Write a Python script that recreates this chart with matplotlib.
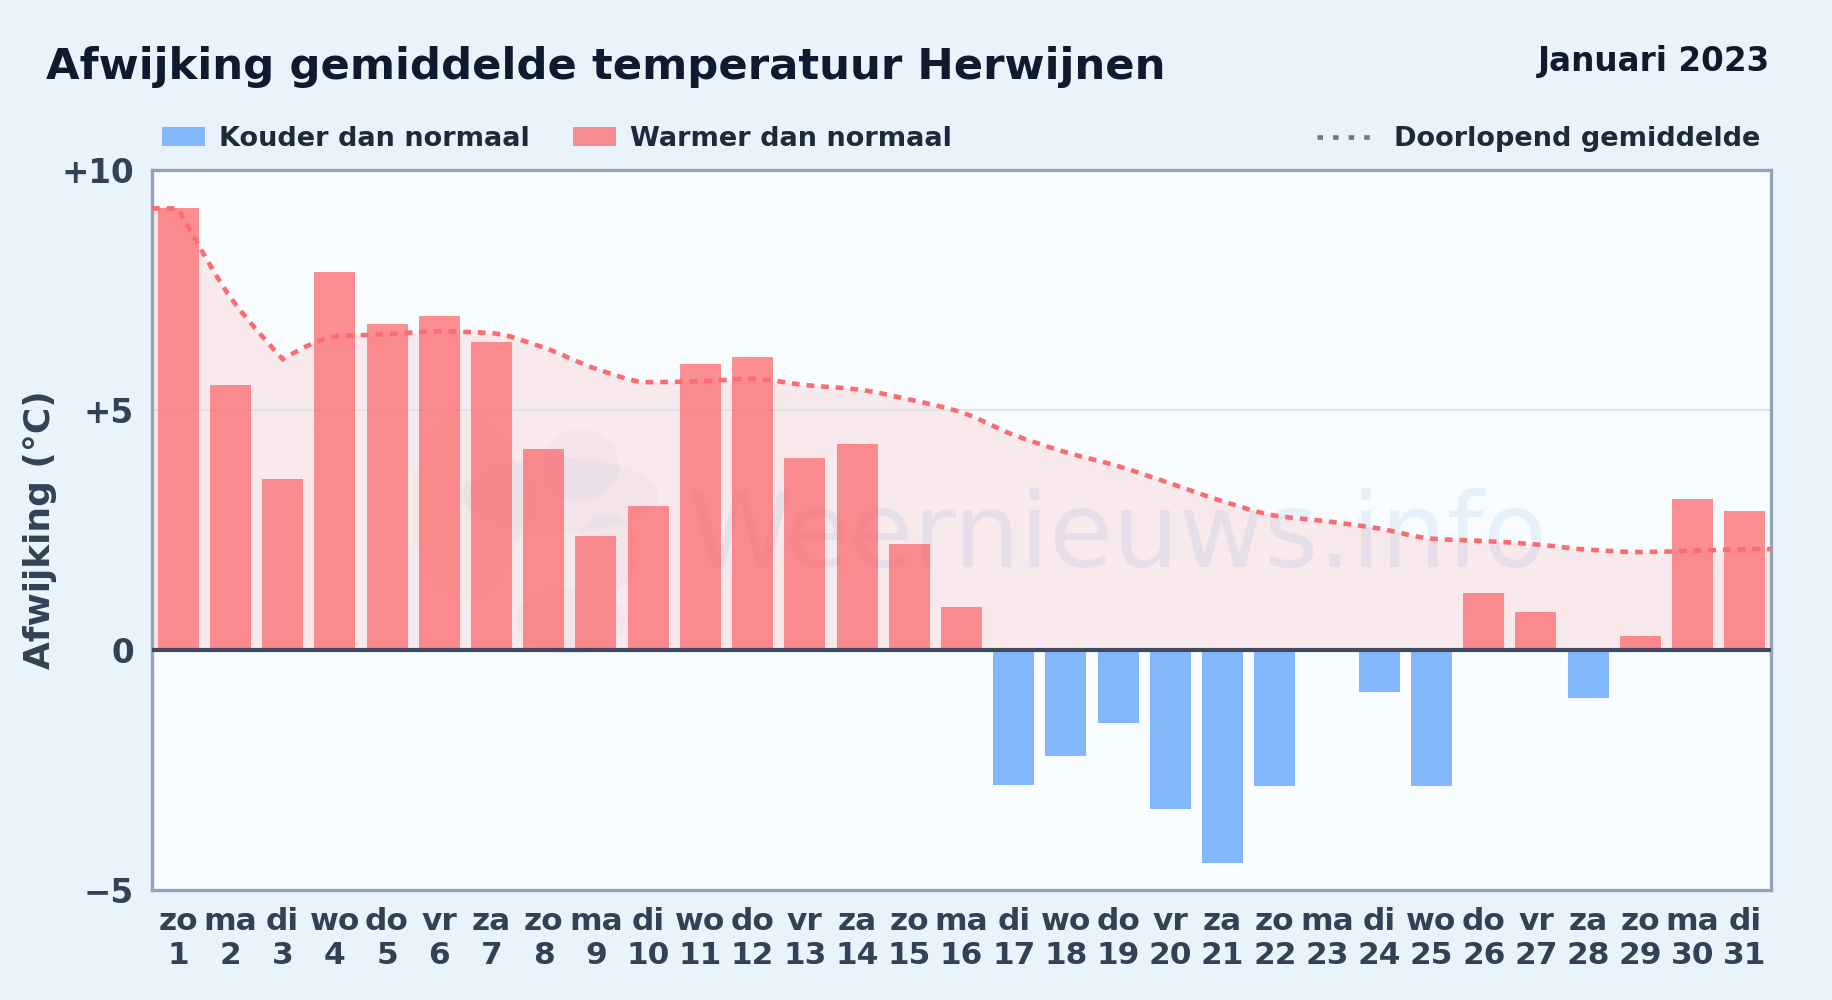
import matplotlib
matplotlib.use('Agg')
import matplotlib.pyplot as plt
from matplotlib.patches import Ellipse, PathPatch, Rectangle
from matplotlib.path import Path
from matplotlib.lines import Line2D
import numpy as np

dagen = ['zo','ma','di','wo','do','vr','za','zo','ma','di','wo','do','vr','za','zo','ma',
         'di','wo','do','vr','za','zo','ma','di','wo','do','vr','za','zo','ma','di']
afwijking = [9.2,5.53,3.56,7.87,6.8,6.95,6.41,4.18,2.37,3.0,5.95,6.1,4.0,4.3,2.2,0.9,
             -2.82,-2.2,-1.53,-3.32,-4.44,-2.84,0,-0.87,-2.84,1.19,0.8,-1.0,0.29,3.14,2.9]
gemiddelde = [9.2,7.35,6.06,6.53,6.58,6.64,6.6,6.3,5.86,5.58,5.6,5.65,5.52,5.43,5.22,4.95,
              4.48,4.12,3.83,3.47,3.1,2.8,2.68,2.53,2.32,2.27,2.2,2.09,2.04,2.07,2.1]
yticks = [-5,0,5,10]
ylabels = ['\u22125','0','+5','+10']

W, H = 1832, 1000
ROOD = '#fb6c70'
BLAUW = '#82b7fc'
DONKER = '#0f1a2e'
TEKST = '#1e293b'
AS = '#334155'

plt.rcParams['font.family'] = 'DejaVu Sans'
plt.rcParams['font.weight'] = 'bold'

def px(x, y):
    return x / W, 1 - y / H

fig = plt.figure(figsize=(W / 100, H / 100), dpi=100, facecolor='#e8f3fc')

left, top, right, bottom = 152, 170, 1771, 890
ax = fig.add_axes([left / W, 1 - bottom / H, (right - left) / W, (bottom - top) / H], zorder=1)
ax.set_facecolor('#f8fcff')
ax.set_xlim(-0.5, 30.5)
ax.set_ylim(-5, 10)

# watermerk
ax.text(18.0, 1.72, 'Weernieuws.info', fontsize=75, fontweight='normal', color='#4a90d9',
        alpha=0.11, ha='center', va='baseline', zorder=1)
for x0, y0, bw, bh, kleur in [(5.5, 3.0, 2.1, 3.9, '#f5c542'), (7.3, 3.23, 3.8, 1.55, '#6a86c8'),
                              (7.7, 3.85, 1.5, 1.5, '#6a86c8'), (6.2, 3.1, 1.3, 1.9, '#6a86c8'),
                              (7.5, 0.62, 2.1, 1.4, '#6a86c8'), (8.2, 2.0, 1.2, 1.7, '#6a86c8')]:
    ax.add_patch(Ellipse((x0, y0), bw, bh, color=kleur, alpha=0.045, lw=0, zorder=1))

x = np.arange(len(afwijking))
y = np.array(gemiddelde)

# doorlopend gemiddelde als vloeiende curve, monotone raaklijnen
d = np.diff(y)
m = np.zeros(len(y))
for i in range(1, len(y) - 1):
    if d[i - 1] * d[i] > 0:
        m[i] = 2 * d[i - 1] * d[i] / (d[i - 1] + d[i])
m[-1] = d[-1]
knik = [0, 2]  # scherpe knik op dag 1 en 3, geen afronding
verts = [(-0.5, y[0]), (x[0], y[0])]
codes = [Path.MOVETO, Path.LINETO]
for i in range(len(x) - 1):
    c1 = (x[i], y[i]) if i in knik else (x[i] + 1 / 3, y[i] + m[i] / 3)
    c2 = (x[i + 1], y[i + 1]) if i + 1 in knik else (x[i + 1] - 1 / 3, y[i + 1] - m[i + 1] / 3)
    verts += [c1, c2, (x[i + 1], y[i + 1])]
    codes += [Path.CURVE4] * 3
verts.append((30.5, y[-1]))
codes.append(Path.LINETO)

vlak = Path(verts + [(30.5, 0), (-0.5, 0), (-0.5, y[0])], codes + [Path.LINETO] * 3)
ax.add_patch(PathPatch(vlak, facecolor=ROOD, alpha=0.13, lw=0, zorder=2))

ax.axhline(5, color='#dfe3e8', lw=1.4, zorder=2.5)

kleuren = [ROOD if w >= 0 else BLAUW for w in afwijking]
balken = ax.bar(x, afwijking, 0.785, color=kleuren, zorder=3)
for b, w in zip(balken, afwijking):
    b.set_alpha(0.76 if w >= 0 else 1)

ax.add_patch(PathPatch(Path(verts, codes), facecolor='none', edgecolor=ROOD, lw=3.3,
                       linestyle=(0, (1.7, 1.5)), zorder=4))
ax.axhline(0, color='#3f4a5e', lw=3, zorder=5)

for s in ax.spines.values():
    s.set_color('#94a3b8')
    s.set_linewidth(2.4)

ax.set_yticks(yticks)
ax.set_yticklabels(ylabels, fontsize=23.5, color=AS)
ax.set_xticks(x)
ax.set_xticklabels([f'{dag}\n{i + 1}' for i, dag in enumerate(dagen)], fontsize=22.5, color=AS, linespacing=1.25)
ax.tick_params(length=0)
ax.tick_params(axis='y', pad=13)
ax.tick_params(axis='x', pad=12)
ax.set_ylabel('Afwijking (°C)', fontsize=25.9, color=AS, fontweight='bold')
ax.yaxis.set_label_coords(*ax.transAxes.inverted().transform(fig.transFigure.transform(px(57, 530))))

# titel
fig.text(*px(46, 67), 'Afwijking gemiddelde temperatuur Herwijnen', fontsize=31.2, color=DONKER, va='center', ha='left')
fig.text(*px(1770, 62), 'Januari 2023', fontsize=23.5, color=DONKER, va='center', ha='right')

# legenda
for lx, kleur, a, tekst, tx in [(162, BLAUW, 1, 'Kouder dan normaal', 219), (573, ROOD, 0.76, 'Warmer dan normaal', 630)]:
    fig.add_artist(Rectangle(px(lx, 146), 43 / W, 19 / H, transform=fig.transFigure, facecolor=kleur, alpha=a, lw=0))
    fig.text(*px(tx, 139), tekst, fontsize=19.5, color=TEKST, va='center', ha='left')
fig.add_artist(Line2D([1317 / W, 1375 / W], [1 - 137 / H] * 2, transform=fig.transFigure, color='#6b7785', lw=3.3,
                      linestyle=(0, (1.2, 2.2))))
fig.text(*px(1760, 139), 'Doorlopend gemiddelde', fontsize=19.5, color=TEKST, va='center', ha='right')

fig.savefig('out.png', dpi=100, facecolor=fig.get_facecolor())
